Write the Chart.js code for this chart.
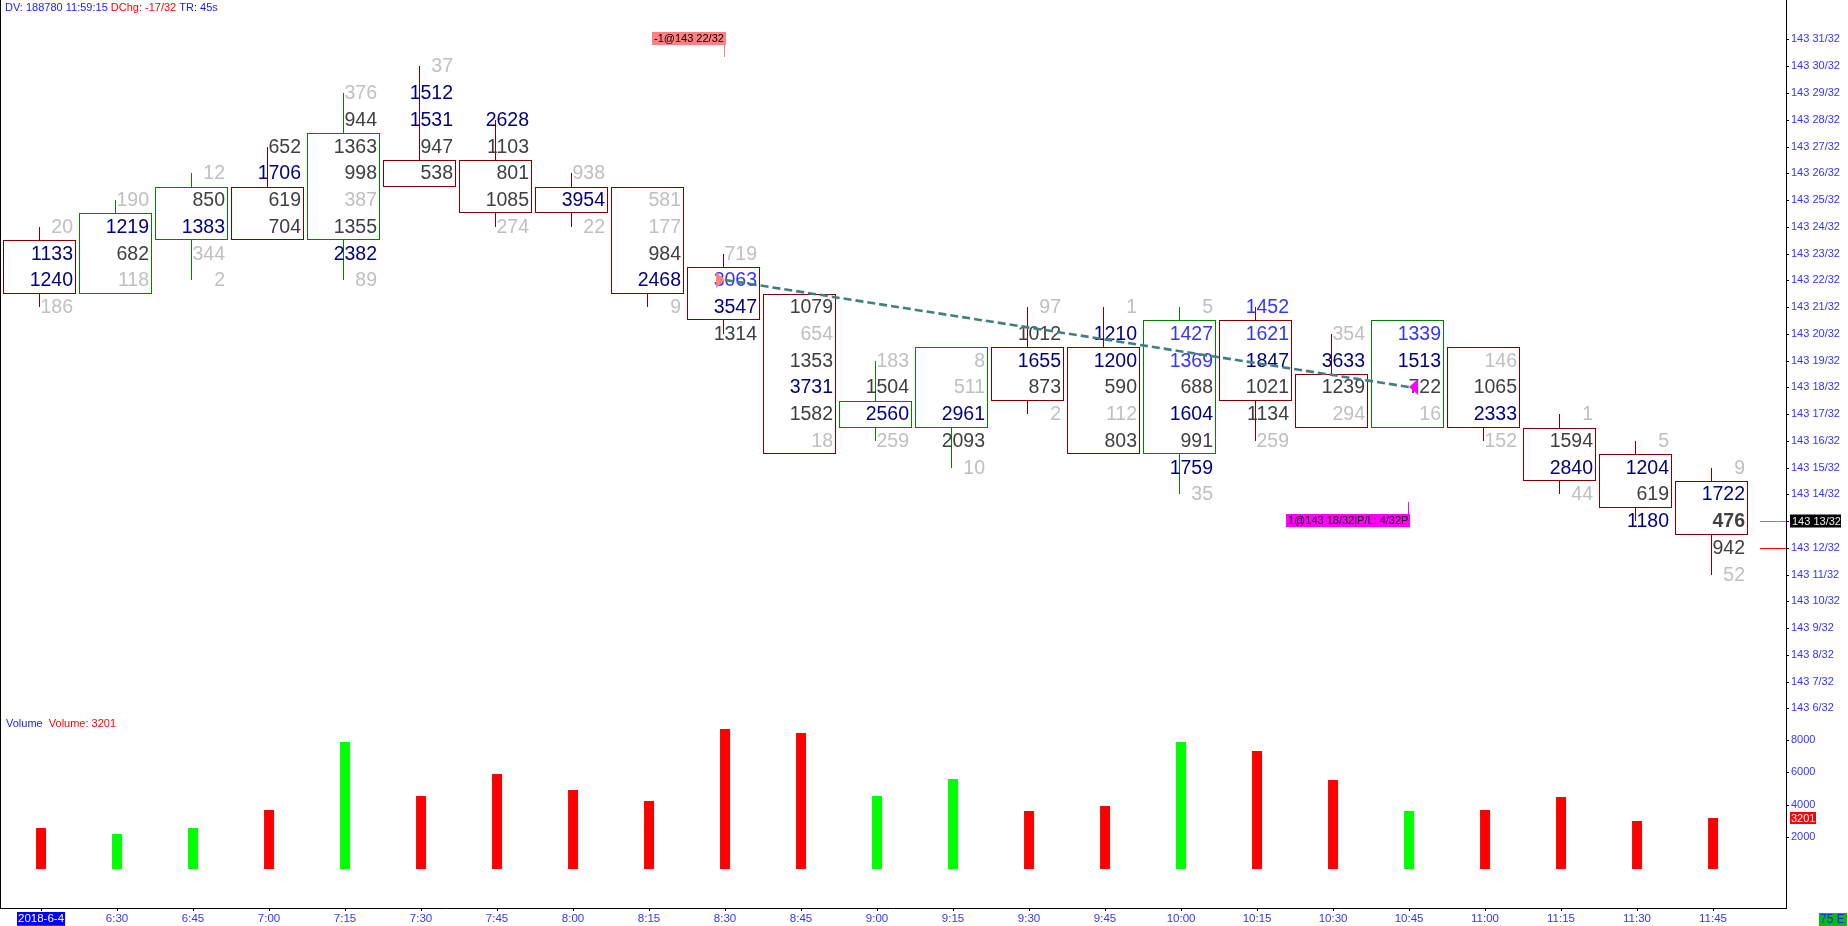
<!DOCTYPE html>
<html>
<head>
<meta charset="utf-8">
<title>Footprint 15 min</title>
<script src="https://cdn.jsdelivr.net/npm/chart.js@4.4.1/dist/chart.umd.min.js"></script>
<style>
  html, body { margin: 0; padding: 0; background: #fff; overflow: hidden; }
  #wrap { position: relative; width: 1848px; height: 926px; }
  #priceCanvas { position: absolute; left: 0; top: 0; }
  #volCanvas { position: absolute; left: 0; top: 712px; }
  #edge { position: absolute; left: 0; top: 0; width: 1px; height: 909px; background: #000; }
</style>
</head>
<body>
<div id="wrap">
  <canvas id="priceCanvas" width="1848" height="726"></canvas>
  <canvas id="volCanvas" width="1848" height="214"></canvas>
  <div id="edge"></div>
</div>
<script>
// --- data -------------------------------------------------------------
const times = ['2018-6-4', '6:30', '6:45', '7:00', '7:15', '7:30', '7:45', '8:00', '8:15', '8:30', '8:45',
  '9:00', '9:15', '9:30', '9:45', '10:00', '10:15', '10:30', '10:45', '11:00', '11:15', '11:30', '11:45'];

// prices are 32nds above 143
const opens  = [23, 22, 24, 25, 24, 26, 26, 25, 25, 22, 21, 17, 17, 19, 19, 16, 20, 18, 17, 19, 16, 15, 14];
const closes = [22, 24, 25, 24, 27, 26, 25, 25, 22, 21, 16, 17, 19, 18, 16, 20, 18, 17, 20, 17, 15, 14, 13];
const highs  = [24, 25, 26, 27, 29, 30, 28, 26, 25, 23, 21, 19, 19, 21, 21, 21, 21, 20, 20, 19, 17, 16, 15];
const lows   = [21, 22, 22, 24, 22, 26, 24, 24, 21, 20, 16, 16, 15, 17, 16, 14, 16, 17, 17, 16, 14, 13, 11];
const upBar  = [0, 1, 1, 0, 1, 0, 0, 0, 0, 0, 0, 1, 1, 0, 0, 1, 0, 0, 1, 0, 0, 0, 0];

// volume at each price, from the high down to the low
const ladder = [
  [20, 1133, 1240, 186],
  [190, 1219, 682, 118],
  [12, 850, 1383, 344, 2],
  [652, 1706, 619, 704],
  [376, 944, 1363, 998, 387, 1355, 2382, 89],
  [37, 1512, 1531, 947, 538],
  [2628, 1103, 801, 1085, 274],
  [938, 3954, 22],
  [581, 177, 984, 2468, 9],
  [719, 3063, 3547, 1314],
  [1079, 654, 1353, 3731, 1582, 18],
  [183, 1504, 2560, 259],
  [8, 511, 2961, 2093, 10],
  [97, 1012, 1655, 873, 2],
  [1, 1210, 1200, 590, 112, 803],
  [5, 1427, 1369, 688, 1604, 991, 1759, 35],
  [1452, 1621, 1847, 1021, 1134, 259],
  [354, 3633, 1239, 294],
  [1339, 1513, 722, 16],
  [146, 1065, 2333, 152],
  [1, 1594, 2840, 44],
  [5, 1204, 619, 1180],
  [9, 1722, 476, 942, 52]
];
// l = light, d = dark, n = navy, b = blue, D = bold dark (last trade)
const tones = ['lnnl', 'lndl', 'ldnll', 'dndd', 'ldddldnl', 'lnndd', 'ndddl', 'lnl', 'lldnl', 'lbnd', 'dldndl',
  'ldnl', 'llndl', 'ldndl', 'lnndld', 'lbbdndnl', 'bbnddl', 'lndl', 'bndl', 'ldnl', 'ldnl', 'lndn', 'lnDdl'];

const volumes = [2579, 2209, 2591, 3681, 7894, 4565, 5891, 4914, 4219, 8643, 8417, 4506, 5583, 3639, 3916,
  7878, 7334, 5520, 3590, 3696, 4479, 3008, 3201];

const priceTicks = [6, 7, 8, 9, 10, 11, 12, 13, 14, 15, 16, 17, 18, 19, 20, 21, 22, 23, 24, 25, 26, 27, 28, 29, 30, 31];
const volTicks = [2000, 4000, 6000, 8000];

const tradeBars = [9, 18];
const tradePrices = [22, 18];
const tradeSides = [-1, 1];
const tradeTags = ['-1@143 22/32', '1@143 18/32|P/L: 4/32P'];
const lastPrice = 13;
const bidPrice = 12;

// --- look -------------------------------------------------------------
const FAM = "'Liberation Sans', Arial, sans-serif";
const AXIS_BLUE = '#3333ff';
const RED_BOX = '#800000';
const GREEN_BOX = '#008000';
const TONE = { l: '#c0c0c0', d: '#404040', D: '#404040', n: '#000080', b: '#3535ff' };
const X_MIN = -0.54, X_MAX = 22.96;
const FP_SHIFT = -1.54 / 76;

Chart.defaults.font.family = FAM;

// linear scale that lands on whole pixels, so the 1px boxes stay sharp
const LinearBase = Chart.registry.getScale('linear');
class SnapLinear extends LinearBase {
  getPixelForValue(v) {
    return Math.round(super.getPixelForValue(v));
  }
}
SnapLinear.id = 'snapLinear';
Chart.register(SnapLinear);

const footprintText = {
  id: 'footprintText',
  afterDatasetDraw(chart, args) {
    if (args.index !== 0) return;
    const { ctx, scales: { x, y } } = chart;
    ctx.save();
    ctx.textAlign = 'right';
    ctx.textBaseline = 'middle';
    ladder.forEach((col, i) => {
      const right = x.getPixelForValue(i) + 32;
      col.forEach((v, k) => {
        const t = tones[i][k];
        ctx.font = (t === 'D' ? 'bold ' : '') + '19.5px ' + FAM;
        ctx.fillStyle = TONE[t];
        ctx.fillText(String(v), right, y.getPixelForValue(highs[i] - k) + 0.5);
      });
    });
    ctx.restore();
  }
};

const priceExtras = {
  id: 'priceExtras',
  afterDatasetsDraw(chart) {
    const { ctx, scales: { x, y } } = chart;
    ctx.save();
    tradeBars.forEach((b, k) => {
      const px = x.getPixelForValue(b);
      const py = y.getPixelForValue(tradePrices[k]);
      const dir = tradeSides[k] < 0 ? 1 : -1;
      ctx.fillStyle = tradeSides[k] < 0 ? '#ff8080' : '#ff00ff';
      ctx.beginPath();
      ctx.moveTo(px, py);
      ctx.lineTo(px - dir * 9, py - 8);
      ctx.lineTo(px - dir * 9, py + 8);
      ctx.closePath();
      ctx.fill();
    });
    ctx.restore();
  },
  afterDraw(chart) {
    const { ctx, chartArea, scales: { x, y } } = chart;
    ctx.save();
    ctx.font = '11px ' + FAM;
    ctx.textBaseline = 'middle';

    // header line
    let hx = 5;
    [['DV: 188780 11:59:15 ', '#1a1aff'], ['DChg: -17/32', '#ff0000'], [' TR: 45s', '#1a1aff']].forEach(([s, c]) => {
      ctx.fillStyle = c;
      ctx.textAlign = 'left';
      ctx.fillText(s, hx, 7.5);
      hx += ctx.measureText(s).width;
    });

    // trade tags
    const tagLevels = [31, 13];
    tradeBars.forEach((b, k) => {
      const px = x.getPixelForValue(b);
      const cy = y.getPixelForValue(tagLevels[k]) - 1.5;
      const w = Math.round(ctx.measureText(tradeTags[k]).width) + 4;
      const col = tradeSides[k] < 0 ? '#ff8080' : '#ff00ff';
      ctx.fillStyle = col;
      ctx.fillRect(Math.round(px) + 1 - w, Math.round(cy) - 6, w, 13);
      ctx.fillRect(Math.round(px) - 1, tradeSides[k] < 0 ? Math.round(cy) + 7 : Math.round(cy) - 18, 1, 12);
      ctx.fillStyle = '#000';
      ctx.textAlign = 'left';
      ctx.fillText(tradeTags[k], Math.round(px) + 3 - w, Math.round(cy) + 0.5);
    });

    // last / bid markers at the axis
    const yl = y.getPixelForValue(lastPrice) + 0.5;
    const yb = y.getPixelForValue(bidPrice) + 0.5;
    ctx.lineWidth = 1;
    ctx.strokeStyle = '#00dd00';
    ctx.beginPath(); ctx.moveTo(chartArea.right - 26, yl); ctx.lineTo(chartArea.right, yl); ctx.stroke();
    ctx.strokeStyle = '#ff0000';
    ctx.beginPath(); ctx.moveTo(chartArea.right - 26, yb); ctx.lineTo(chartArea.right, yb); ctx.stroke();
    ctx.fillStyle = '#000';
    ctx.fillRect(chartArea.right + 4, yl - 7, 51, 13);
    ctx.fillStyle = '#f0f0f0';
    ctx.textAlign = 'left';
    ctx.fillText('143 ' + lastPrice + '/32', chartArea.right + 6, yl);
    ctx.restore();
  }
};

const volExtras = {
  id: 'volExtras',
  afterDraw(chart) {
    const { ctx, chartArea, scales: { y } } = chart;
    ctx.save();
    ctx.font = '11px ' + FAM;
    ctx.textBaseline = 'middle';
    ctx.textAlign = 'left';
    ctx.fillStyle = '#1a1aff';
    ctx.fillText('Volume', 6, chartArea.top + 12);
    const w = ctx.measureText('Volume  ').width;
    ctx.fillStyle = '#ff0000';
    ctx.fillText('Volume: ' + volumes[volumes.length - 1], 6 + w, chartArea.top + 12);

    const yv = y.getPixelForValue(volumes[volumes.length - 1]);
    ctx.fillStyle = '#ff0000';
    ctx.fillRect(chartArea.right + 4, yv - 6, 26, 12);
    ctx.fillStyle = '#ffffff';
    ctx.fillText(String(volumes[volumes.length - 1]), chartArea.right + 5, yv + 0.5);

    ctx.fillStyle = '#00c000';
    ctx.fillRect(chart.width - 29, chart.height - 13, 28, 13);
    ctx.fillStyle = '#2020ff';
    ctx.font = '12px ' + FAM;
    ctx.fillText('75 E', chart.width - 28, chart.height - 6);
    ctx.restore();
  }
};

const common = {
  responsive: false,
  animation: false,
  devicePixelRatio: 1,
  layout: { padding: 0 },
  plugins: { legend: { display: false }, tooltip: { enabled: false } }
};

new Chart(document.getElementById('priceCanvas'), {
  type: 'bar',
  data: {
    datasets: [
      {
        label: 'body',
        data: times.map((t, i) => ({
          x: i + FP_SHIFT,
          y: [Math.min(opens[i], closes[i]) - 0.5, Math.max(opens[i], closes[i]) + 0.5]
        })),
        backgroundColor: '#ffffff',
        borderColor: upBar.map(u => u ? GREEN_BOX : RED_BOX),
        borderWidth: 1,
        borderSkipped: false,
        inflateAmount: 0,
        barThickness: 73,
        grouped: false,
        order: 2
      },
      {
        label: 'wick',
        data: times.map((t, i) => ({ x: i + FP_SHIFT, y: [lows[i], highs[i]] })),
        backgroundColor: upBar.map(u => u ? GREEN_BOX : RED_BOX),
        borderWidth: 0,
        inflateAmount: 0,
        barThickness: 1,
        grouped: false,
        order: 3
      },
      {
        type: 'line',
        label: 'trade',
        data: tradeBars.map((b, k) => ({ x: b, y: tradePrices[k] })),
        borderColor: '#3f8080',
        borderWidth: 2.6,
        borderDash: [8, 4],
        pointRadius: 0,
        fill: false,
        order: 1
      }
    ]
  },
  options: {
    ...common,
    scales: {
      x: { type: 'linear', min: X_MIN, max: X_MAX, display: false, offset: false, grid: { offset: false } },
      y: {
        type: 'snapLinear',
        position: 'right',
        min: 5.346,
        max: 32.476,
        afterBuildTicks: s => { s.ticks = priceTicks.map(v => ({ value: v })); },
        afterFit: s => { s.width = 62; s.paddingTop = 0; s.paddingBottom = 0; },
        grid: { drawOnChartArea: false, tickLength: 3, color: '#000' },
        border: { display: true, color: '#000', width: 1 },
        ticks: { callback: v => '143 ' + v + '/32', color: AXIS_BLUE, font: { size: 11 }, padding: 2 }
      }
    }
  },
  plugins: [footprintText, priceExtras]
});

new Chart(document.getElementById('volCanvas'), {
  type: 'bar',
  data: {
    datasets: [{
      label: 'Volume',
      data: times.map((t, i) => ({ x: i, y: volumes[i] })),
      backgroundColor: upBar.map(u => u ? '#00ff00' : '#ff0000'),
      borderWidth: 0,
      inflateAmount: 0,
      barThickness: 10,
      grouped: false
    }]
  },
  options: {
    ...common,
    scales: {
      x: {
        type: 'linear',
        min: X_MIN,
        max: X_MAX,
        offset: false,
        afterBuildTicks: s => { s.ticks = times.map((t, i) => ({ value: i })); },
        afterFit: s => { s.height = 18; s.paddingLeft = 0; s.paddingRight = 0; },
        grid: { offset: false, drawOnChartArea: false, tickLength: 3, color: '#000' },
        border: { display: true, color: '#000', width: 1 },
        ticks: {
          callback: v => times[v],
          autoSkip: false,
          maxRotation: 0,
          padding: 1,
          font: { size: 11.5 },
          color: c => c.index === 0 ? '#ffffff' : AXIS_BLUE,
          showLabelBackdrop: c => c.index === 0,
          backdropColor: '#0000ff',
          backdropPadding: { top: 0, bottom: 0, left: 1, right: 1 }
        }
      },
      y: {
        type: 'snapLinear',
        position: 'right',
        min: -2377,
        max: 9722,
        afterBuildTicks: s => { s.ticks = volTicks.map(v => ({ value: v })); },
        afterFit: s => { s.width = 62; s.paddingTop = 0; s.paddingBottom = 0; },
        grid: { drawOnChartArea: false, tickLength: 3, color: '#000' },
        border: { display: true, color: '#000', width: 1 },
        ticks: { callback: v => String(v), color: AXIS_BLUE, font: { size: 11 }, padding: 2 }
      }
    }
  },
  plugins: [volExtras]
});
</script>
</body>
</html>
